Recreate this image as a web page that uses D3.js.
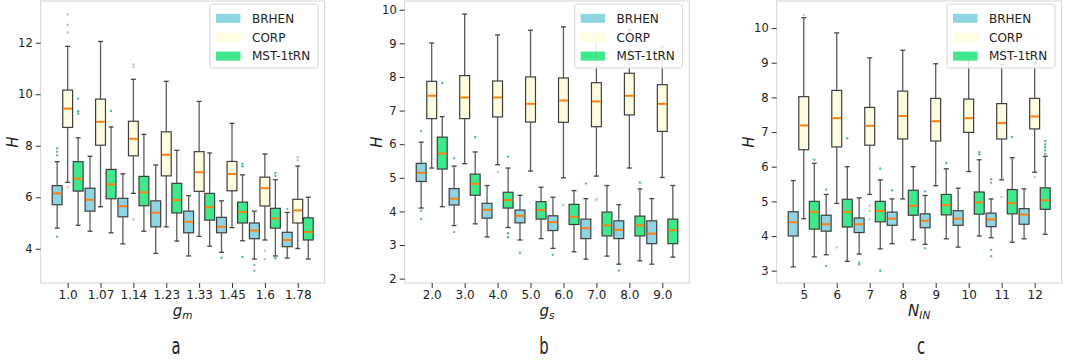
<!DOCTYPE html>
<html lang="en">

<head>
    <meta charset="UTF-8">
    <title>H box plots</title>
    <style>
        body { margin: 0; background: #fff; }
        text { font-family: "DejaVu Sans", sans-serif; fill: #222; }
    </style>
</head>

<body>
    <svg id="chart"></svg>

    <script src="https://d3js.org/d3.v7.min.js"></script>
    <script>
        // series names
        const seriesNames = ['BRHEN', 'CORP', 'MST-1tRN'];

        // panel a : g_m   box = [whisker low, q1, median, q3, whisker high]
        const gmCats = ['1.0', '1.07', '1.14', '1.23', '1.33', '1.45', '1.6', '1.78'];
        const gmBRHEN = [[4.80, 5.71, 6.15, 6.45, 7.38], [4.68, 5.46, 5.90, 6.35, 7.59], [4.19, 5.24, 5.65, 5.96, 6.91], [3.82, 4.85, 5.40, 5.86, 7.25],
            [3.72, 4.62, 5.05, 5.46, 6.06], [3.86, 4.62, 4.85, 5.22, 5.86], [3.60, 4.39, 4.71, 5.00, 5.46], [3.64, 4.08, 4.34, 4.64, 5.41]];
        const gmBRHENOut = [[7.90, 7.77, 7.63, 4.47], [], [], [], [], [3.65], [3.37, 3.15], [5.54]];
        const gmCORP = [[6.58, 8.71, 9.44, 10.16, 11.86], [5.63, 8.02, 8.93, 9.81, 12.05], [6.15, 7.61, 8.27, 8.95, 10.58], [4.85, 6.83, 7.65, 8.54, 10.50],
            [4.48, 6.23, 6.97, 7.77, 9.72], [4.82, 6.25, 6.90, 7.39, 8.87], [4.34, 5.66, 6.35, 6.78, 7.68], [4.01, 5.00, 5.49, 5.92, 7.21]];
        const gmCORPOut = [[13.1, 12.7, 12.4, 6.40], [], [11.16, 11.06, 5.14], [], [], [], [3.92, 3.59], [7.55, 7.44]];
        const gmMST = [[4.91, 6.24, 6.72, 7.38, 8.31], [4.62, 5.94, 6.50, 7.08, 8.73], [4.68, 5.67, 6.19, 6.81, 8.44], [4.30, 5.39, 5.89, 6.54, 7.82],
            [4.10, 5.11, 5.61, 6.15, 7.72], [4.31, 5.00, 5.43, 5.81, 6.87], [3.72, 4.80, 5.17, 5.57, 6.68], [3.60, 4.34, 4.65, 5.20, 6.00]];
        const gmMSTOut = [[9.83, 9.34, 9.24], [9.35], [], [], [], [7.30, 7.20, 3.68], [6.94, 6.83, 3.63], []];
        const gmTicks = [4, 6, 8, 10, 12];

        // panel b : g_s
        const gsCats = ['2.0', '3.0', '4.0', '5.0', '6.0', '7.0', '8.0', '9.0'];
        const gsBRHEN = [[4.10, 4.89, 5.15, 5.43, 6.06], [3.58, 4.19, 4.38, 4.68, 5.35], [3.24, 3.80, 4.05, 4.24, 4.77], [3.15, 3.66, 3.87, 4.04, 4.48],
            [2.90, 3.43, 3.68, 3.87, 4.42], [2.58, 3.19, 3.50, 3.77, 4.38], [2.43, 3.19, 3.45, 3.72, 4.20], [2.43, 3.04, 3.34, 3.72, 4.38]];
        const gsBRHENOut = [[6.39, 4.02, 3.77], [5.58, 3.39], [], [2.77], [2.71], [4.83], [2.24], []];
        const gsCORP = [[5.29, 6.76, 7.44, 7.87, 9.01], [5.42, 6.76, 7.39, 8.04, 9.87], [5.39, 6.81, 7.39, 7.88, 9.25], [5.20, 6.66, 7.20, 8.00, 9.39],
            [5.00, 6.65, 7.30, 7.97, 9.49], [5.05, 6.52, 7.27, 7.83, 9.30], [5.29, 6.87, 7.44, 8.11, 9.40], [5.01, 6.38, 7.20, 7.77, 8.90]];
        const gsCORPOut = [[], [], [5.18], [], [4.19], [4.37, 4.34], [], []];
        const gsMST = [[4.14, 5.26, 5.72, 6.21, 6.82], [3.63, 4.48, 4.82, 5.11, 5.77], [3.52, 4.10, 4.34, 4.57, 5.29], [3.19, 3.77, 4.04, 4.29, 4.72],
            [2.80, 3.61, 3.84, 4.21, 4.62], [2.67, 3.27, 3.58, 3.98, 4.77], [2.53, 3.27, 3.58, 3.86, 4.67], [2.64, 3.04, 3.44, 3.77, 4.77]];
        const gsMSTOut = [[7.82], [6.21], [5.63, 3.35, 3.23], [], [], [], [4.86], []];
        const gsTicks = [2, 3, 4, 5, 6, 7, 8, 9, 10];

        // panel c : N_IN
        const nCats = ['5', '6', '7', '8', '9', '10', '11', '12'];
        const nBRHEN = [[3.11, 4.00, 4.40, 4.70, 5.60], [3.46, 4.14, 4.34, 4.60, 5.20], [3.48, 4.10, 4.34, 4.52, 5.10], [3.78, 4.31, 4.50, 4.69, 5.07],
            [3.76, 4.24, 4.44, 4.64, 5.17], [3.68, 4.31, 4.50, 4.73, 5.38], [3.95, 4.27, 4.48, 4.66, 5.07], [3.92, 4.34, 4.62, 4.79, 5.36]];
        const nBRHENOut = [[], [5.34, 3.14], [3.23, 3.18], [5.32], [5.29, 3.65], [], [5.64, 5.54, 3.60, 3.42], []];
        const nCORP = [[4.50, 6.49, 7.19, 8.02, 10.30], [4.94, 6.57, 7.40, 8.20, 9.86], [5.20, 6.62, 7.18, 7.71, 9.14], [5.07, 6.80, 7.46, 8.18, 9.36],
            [5.45, 6.74, 7.31, 7.97, 8.97], [5.86, 6.99, 7.40, 7.95, 9.10], [5.62, 6.80, 7.26, 7.82, 8.95], [5.84, 7.09, 7.45, 7.97, 9.00]];
        const nCORPOut = [[10.38], [3.67], [4.87, 4.72, 4.48], [], [], [], [5.13], [5.70]];
        const nMST = [[3.40, 4.20, 4.70, 5.00, 6.10], [3.27, 4.26, 4.70, 5.06, 6.00], [3.63, 4.41, 4.72, 5.00, 5.62], [3.89, 4.60, 4.87, 5.32, 6.00],
            [3.92, 4.61, 4.89, 5.20, 5.94], [4.00, 4.63, 4.97, 5.27, 6.20], [3.82, 4.64, 4.95, 5.34, 6.26], [4.05, 4.77, 5.03, 5.39, 6.30]];
        const nMSTOut = [[6.20], [6.82], [5.95, 3.00], [], [6.11], [6.42, 6.35], [6.86], [6.74, 6.65, 6.57, 6.47, 6.37]];
        const nTicks = [3, 4, 5, 6, 7, 8, 9, 10];

        const fills = ['#8fd4e2', '#fffde0', '#40e88c'];
        const outColors = ['#6fb2c2', '#c4c4ae', '#4cbf8a'];

        const svg = d3.select('#chart').attr('width', 1065).attr('height', 360);

        const plotTop = 1, plotBottom = 283;

        function drawPanel(p) {
            const g = svg.append('g');
            const x = d3.scalePoint().domain(p.cats).range([p.left, p.right]).padding(0.82);
            const y = d3.scaleLinear().domain(p.yDomain).range([plotBottom, plotTop]);
            const step = x.step();

            // frame
            g.append('rect')
                .attr('x', p.left).attr('y', plotTop)
                .attr('width', p.right - p.left).attr('height', plotBottom - plotTop)
                .attr('fill', 'none').attr('stroke', '#d4d4d4').attr('stroke-width', 1);

            // axes
            const xAxis = g.append('g').attr('transform', `translate(0,${plotBottom})`)
                .call(d3.axisBottom(x).tickSize(5).tickPadding(2));
            const yAxis = g.append('g').attr('transform', `translate(${p.left},0)`)
                .call(d3.axisLeft(y).tickValues(p.ticks).tickSize(5).tickPadding(3).tickFormat(d3.format('d')));
            [xAxis, yAxis].forEach(a => {
                a.select('.domain').remove();
                a.selectAll('line').attr('stroke', '#333').attr('stroke-width', 1);
                a.selectAll('text').attr('fill', '#222')
                    .style('font-family', '"DejaVu Sans", sans-serif');
            });
            xAxis.selectAll('text').attr('font-size', 12);
            yAxis.selectAll('text').attr('font-size', 11.5);

            // boxes
            p.series.forEach((s, si) => {
                const off = (si - 1) * 0.32 * step;
                const bw = 0.30 * step;
                const grp = g.append('g');
                const items = s.box.map((b, i) => ({ b, cx: x(p.cats[i]) + off }));

                // whiskers
                [[0, 1], [3, 4]].forEach(([a, b]) => {
                    grp.selectAll(null).data(items).join('line')
                        .attr('x1', d => d.cx).attr('x2', d => d.cx)
                        .attr('y1', d => y(d.b[a])).attr('y2', d => y(d.b[b]))
                        .attr('stroke', '#5c5c5c').attr('stroke-width', 1.3);
                });
                // caps
                [0, 4].forEach(k => {
                    grp.selectAll(null).data(items).join('line')
                        .attr('x1', d => d.cx - bw / 4).attr('x2', d => d.cx + bw / 4)
                        .attr('y1', d => y(d.b[k])).attr('y2', d => y(d.b[k]))
                        .attr('stroke', '#444').attr('stroke-width', 1.3);
                });
                // box
                grp.selectAll(null).data(items).join('rect')
                    .attr('x', d => d.cx - bw / 2).attr('width', bw)
                    .attr('y', d => y(d.b[3])).attr('height', d => y(d.b[1]) - y(d.b[3]))
                    .attr('fill', fills[si]).attr('stroke', '#3d3d3d').attr('stroke-width', 1.2);
                // median
                grp.selectAll(null).data(items).join('line')
                    .attr('x1', d => d.cx - bw / 2 + 0.6).attr('x2', d => d.cx + bw / 2 - 0.6)
                    .attr('y1', d => y(d.b[2])).attr('y2', d => y(d.b[2]))
                    .attr('stroke', '#ff7f0e').attr('stroke-width', 2);
                // outliers
                const pts = [];
                s.out.forEach((arr, i) => arr.forEach(v => pts.push({ cx: x(p.cats[i]) + off, v })));
                grp.selectAll(null).data(pts).join('circle')
                    .attr('cx', d => d.cx).attr('cy', d => y(d.v)).attr('r', 1.2)
                    .attr('fill', outColors[si]);
            });

            // y label
            g.append('text')
                .attr('transform', `translate(${p.left - 23},${(plotTop + plotBottom) / 2}) rotate(-90)`)
                .attr('text-anchor', 'middle')
                .attr('font-size', 15).attr('font-style', 'italic')
                .text('H');

            // x label
            const xl = g.append('text')
                .attr('x', (p.left + p.right) / 2).attr('y', 315.5)
                .attr('text-anchor', 'middle').attr('font-size', 15).attr('font-style', 'italic');
            xl.append('tspan').text(p.xMain);
            xl.append('tspan').attr('font-size', 10.5).attr('dy', 3).text(p.xSub);

            // panel letter
            g.append('text')
                .attr('transform', `translate(${p.letterX},354) scale(0.64,1)`)
                .attr('text-anchor', 'middle').attr('font-size', 23)
                .text(p.letter);

            // legend
            const lw = 108, lx = p.right - 6.7 - lw, ly = 4;
            const leg = g.append('g');
            leg.append('rect')
                .attr('x', lx).attr('y', ly).attr('width', lw).attr('height', 64)
                .attr('rx', 2.5)
                .attr('fill', '#fff').attr('fill-opacity', 0.85)
                .attr('stroke', '#d6d6d6').attr('stroke-width', 1);
            seriesNames.forEach((name, i) => {
                const cy = ly + 14.3 + i * 18.9;
                leg.append('rect')
                    .attr('x', lx + 6).attr('y', cy - 4.5)
                    .attr('width', 24.5).attr('height', 9)
                    .attr('fill', fills[i]);
                leg.append('text')
                    .attr('x', lx + 42).attr('y', cy)
                    .attr('dy', '0.36em').attr('font-size', 12)
                    .text(name);
            });
        }

        drawPanel({
            left: 40.7, right: 324.7, cats: gmCats, yDomain: [2.67, 13.62], ticks: gmTicks,
            series: [{ box: gmBRHEN, out: gmBRHENOut }, { box: gmCORP, out: gmCORPOut }, { box: gmMST, out: gmMSTOut }],
            xMain: 'g', xSub: 'm', letter: 'a', letterX: 176
        });
        drawPanel({
            left: 404.7, right: 689.3, cats: gsCats, yDomain: [1.87, 10.26], ticks: gsTicks,
            series: [{ box: gsBRHEN, out: gsBRHENOut }, { box: gsCORP, out: gsCORPOut }, { box: gsMST, out: gsMSTOut }],
            xMain: 'g', xSub: 's', letter: 'b', letterX: 544
        });
        drawPanel({
            left: 776.7, right: 1061.7, cats: nCats, yDomain: [2.645, 10.78], ticks: nTicks,
            series: [{ box: nBRHEN, out: nBRHENOut }, { box: nCORP, out: nCORPOut }, { box: nMST, out: nMSTOut }],
            xMain: 'N', xSub: 'IN', letter: 'c', letterX: 921
        });
    </script>
</body>

</html>
